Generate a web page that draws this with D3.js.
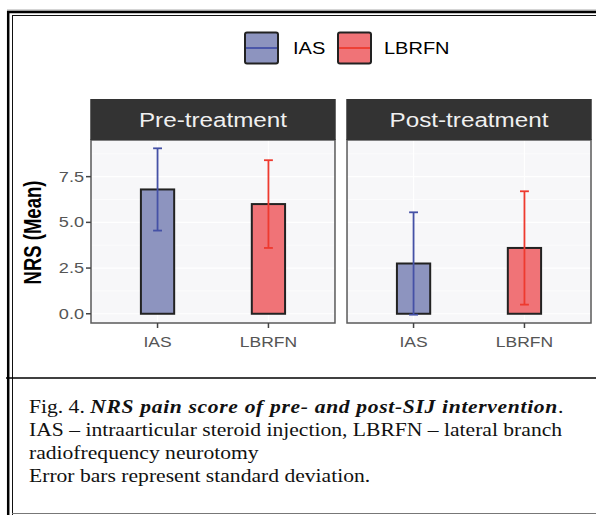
<!DOCTYPE html>
<html>
<head>
<meta charset="utf-8">
<script src="https://cdn.jsdelivr.net/npm/d3@7"></script>
<style>
  body { margin: 0; background: #fff; }
  svg { display: block; }
</style>
</head>
<body>
<script>

// values
const periods = ["Pre-treatment", "Post-treatment"];
const groups = ["IAS", "LBRFN"];
const meanPre = [6.8, 6.0];
const sdPre = [2.25, 2.4];
const meanPost = [2.75, 3.6];
const sdPost = [2.8, 3.1];
const yTicks = [0, 2.5, 5, 7.5];
const captionLines = [
    "IAS \u2013 intraarticular steroid injection, LBRFN \u2013 lateral branch",
    "radiofrequency neurotomy",
    "Error bars represent standard deviation."
];

const fills = { IAS: "#8d94bf", LBRFN: "#f07377" };
const strokes = { IAS: "#4551a6", LBRFN: "#ee3a2f" };

const rows = [];
periods.forEach((p, i) => {
    const m = i === 0 ? meanPre : meanPost;
    const s = i === 0 ? sdPre : sdPost;
    groups.forEach((g, j) => rows.push({ period: p, group: g, mean: m[j], sd: s[j] }));
});

const W = 596, H = 515;
const stretch = 1.25; // the chart image is a bit wide

const svg = d3.select('body')
    .append('svg')
    .attr("width", W)
    .attr("height", H);

svg.append("rect").attr("width", W).attr("height", H).attr("fill", "#fff");

// frame round figure + caption
const frame = svg.append('g');
frame.append("line").attr("x1", 7).attr("x2", W).attr("y1", 10).attr("y2", 10)
    .attr("stroke", "#aaa").attr("stroke-width", 1);
frame.append("line").attr("x1", 7).attr("x2", W).attr("y1", 12).attr("y2", 12)
    .attr("stroke", "#000").attr("stroke-width", 2.5);
frame.append("line").attr("x1", 8.2).attr("x2", 8.2).attr("y1", 11).attr("y2", H)
    .attr("stroke", "#000").attr("stroke-width", 2.5);
frame.append("line").attr("x1", 12).attr("x2", W).attr("y1", 15.5).attr("y2", 15.5)
    .attr("stroke", "#111").attr("stroke-width", 1);
frame.append("line").attr("x1", 12.5).attr("x2", 12.5).attr("y1", 15).attr("y2", H)
    .attr("stroke", "#111").attr("stroke-width", 1);
frame.append("line").attr("x1", 6).attr("x2", W).attr("y1", 378).attr("y2", 378)
    .attr("stroke", "#000").attr("stroke-width", 1.5);
frame.append("line").attr("x1", 12).attr("x2", W).attr("y1", 513.5).attr("y2", 513.5)
    .attr("stroke", "#777").attr("stroke-width", 1);

// scales
const panelX = d3.scaleBand().domain(periods).range([91, 591]).paddingInner(0.047);
const xIn = d3.scalePoint().domain(groups).range([0, panelX.bandwidth()]).padding(0.6);
const step = xIn.step();

const lo = Math.min(0, d3.min(rows, d => d.mean - d.sd));
const hi = d3.max(rows, d => d.mean + d.sd);
const pad = (hi - lo) * 0.05;
const panelTop = 140, panelBottom = 323;
const y = d3.scaleLinear().domain([lo - pad, hi + pad]).range([panelBottom, panelTop]);

function stext(g, x, yy, str, size, opts) {
    opts = opts || {};
    return g.append("text")
        .attr("transform", `translate(${x},${yy}) scale(${stretch},1)` + (opts.rotate ? ` rotate(${opts.rotate})` : ""))
        .attr("text-anchor", opts.anchor || "middle")
        .attr("font-family", "'Liberation Sans', Arial, sans-serif")
        .attr("font-size", size)
        .attr("font-weight", opts.weight || "normal")
        .attr("fill", opts.fill || "#000")
        .text(str);
}

// legend
const legend = svg.append('g');
const legendItems = [{ g: "IAS", x: 245, tx: 293 }, { g: "LBRFN", x: 338, tx: 384 }];
legendItems.forEach(d => {
    legend.append("rect")
        .attr("x", d.x).attr("y", 32.5).attr("width", 33).attr("height", 31)
        .attr("rx", 2)
        .attr("fill", fills[d.g]).attr("stroke", "#222").attr("stroke-width", 2);
    legend.append("line")
        .attr("x1", d.x + 1).attr("x2", d.x + 32).attr("y1", 48).attr("y2", 48)
        .attr("stroke", strokes[d.g]).attr("stroke-width", 1.8);
    stext(legend, d.tx, 54, d.g, 16, { anchor: "start" });
});

// panels
periods.forEach(p => {
    const x0 = panelX(p);
    const bw = panelX.bandwidth();
    const g = svg.append('g').attr("transform", `translate(${x0},0)`);

    g.append("rect")
        .attr("x", 0).attr("y", panelTop).attr("width", bw).attr("height", panelBottom - panelTop)
        .attr("fill", "#f7f7f9");

    // grid
    const minor = yTicks.map(t => t + 1.25).filter(t => y(t) > panelTop);
    g.selectAll(".minor").data(minor).enter().append("line")
        .attr("x1", 0).attr("x2", bw).attr("y1", d => y(d)).attr("y2", d => y(d))
        .attr("stroke", "#fff").attr("stroke-width", 0.6);
    g.selectAll(".major").data(yTicks).enter().append("line")
        .attr("x1", 0).attr("x2", bw).attr("y1", d => y(d)).attr("y2", d => y(d))
        .attr("stroke", "#fff").attr("stroke-width", 1.2);
    g.selectAll(".vgrid").data(groups).enter().append("line")
        .attr("x1", d => xIn(d)).attr("x2", d => xIn(d)).attr("y1", panelTop).attr("y2", panelBottom)
        .attr("stroke", "#fff").attr("stroke-width", 1.2);

    const data = rows.filter(r => r.period === p);

    // bars
    g.selectAll(".bar").data(data).enter().append("rect")
        .attr("x", d => xIn(d.group) - 0.15 * step)
        .attr("width", 0.3 * step)
        .attr("y", d => y(d.mean))
        .attr("height", d => y(0) - y(d.mean))
        .attr("fill", d => fills[d.group])
        .attr("stroke", "#222").attr("stroke-width", 2);

    // error bars
    const eb = g.selectAll(".eb").data(data).enter().append("g")
        .attr("stroke", d => strokes[d.group]).attr("stroke-width", 1.8);
    eb.append("line")
        .attr("x1", d => xIn(d.group)).attr("x2", d => xIn(d.group))
        .attr("y1", d => y(d.mean + d.sd)).attr("y2", d => y(d.mean - d.sd));
    eb.append("line")
        .attr("x1", d => xIn(d.group) - 0.04 * step).attr("x2", d => xIn(d.group) + 0.04 * step)
        .attr("y1", d => y(d.mean + d.sd)).attr("y2", d => y(d.mean + d.sd));
    eb.append("line")
        .attr("x1", d => xIn(d.group) - 0.04 * step).attr("x2", d => xIn(d.group) + 0.04 * step)
        .attr("y1", d => y(d.mean - d.sd)).attr("y2", d => y(d.mean - d.sd));

    // border
    g.append("rect")
        .attr("x", 0).attr("y", panelTop).attr("width", bw).attr("height", panelBottom - panelTop)
        .attr("fill", "none").attr("stroke", "#5a5a5a").attr("stroke-width", 1.5);

    // strip
    g.append("rect")
        .attr("x", -0.75).attr("y", 99).attr("width", bw + 1.5).attr("height", panelTop - 99)
        .attr("fill", "#333");
    stext(g, bw / 2, 126.5, p, 19.4, { fill: "#f0f0f0" });

    // x axis
    g.selectAll(".xt").data(groups).enter().append("line")
        .attr("x1", d => xIn(d)).attr("x2", d => xIn(d))
        .attr("y1", panelBottom).attr("y2", panelBottom + 5)
        .attr("stroke", "#444").attr("stroke-width", 1.5);
    groups.forEach(gr => stext(g, xIn(gr), 347, gr, 14, { fill: "#555" }));
});

// y axis (left panel only)
const x0 = panelX(periods[0]);
svg.selectAll(".yt").data(yTicks).enter().append("line")
    .attr("x1", x0 - 5).attr("x2", x0)
    .attr("y1", d => y(d)).attr("y2", d => y(d))
    .attr("stroke", "#444").attr("stroke-width", 1.5);
yTicks.forEach(t => stext(svg, x0 - 7, y(t) + 5, d3.format(".1f")(t), 14.5, { anchor: "end", fill: "#555" }));
stext(svg, 41, (panelTop + panelBottom) / 2 + 1, "NRS (Mean)", 18.5, { rotate: -90, weight: "bold" });

// caption (the serif in the figure is wider than Times, so stretch it)
const cap = svg.append("g")
    .attr("transform", "translate(29,0) scale(1.2,1)")
    .attr("font-family", "'Liberation Serif', 'Times New Roman', serif")
    .attr("font-size", 18)
    .attr("fill", "#111");
const first = cap.append("text").attr("x", 0).attr("y", 413);
first.append("tspan").text("Fig. 4. ");
first.append("tspan").attr("font-style", "italic").attr("font-weight", "bold")
    .attr("letter-spacing", 0.55)
    .text("NRS pain score of pre- and post-SIJ intervention");
first.append("tspan").text(".");
cap.selectAll(".cl").data(captionLines).enter().append("text")
    .attr("x", 0)
    .attr("y", (d, i) => 436 + i * 23)
    .text(d => d);

</script>
</body>
</html>
